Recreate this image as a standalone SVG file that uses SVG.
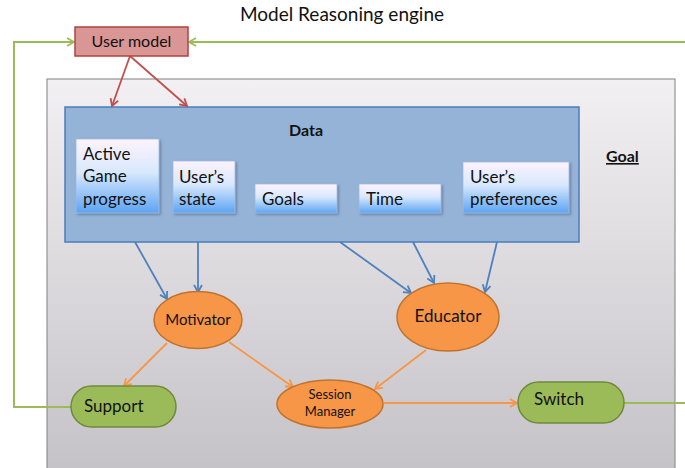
<svg xmlns="http://www.w3.org/2000/svg" width="685" height="468" viewBox="0 0 685 468">
<defs>
<linearGradient id="gGray" x1="0" y1="0" x2="0" y2="1">
<stop offset="0" stop-color="#f3f0f3"/>
<stop offset="1" stop-color="#c4c2c7"/>
</linearGradient>
<linearGradient id="gSub" x1="0" y1="0" x2="0" y2="1">
<stop offset="0" stop-color="#fdf3fd"/>
<stop offset="0.45" stop-color="#d8e8fd"/>
<stop offset="1" stop-color="#5ca4f3"/>
</linearGradient>
<filter id="shadow" x="-10%" y="-10%" width="130%" height="130%">
<feDropShadow dx="1.5" dy="1.5" stdDeviation="1.2" flood-color="#3a4f6a" flood-opacity="0.5"/>
</filter>
<marker id="aRed" markerWidth="10" markerHeight="10" refX="8" refY="5" orient="auto" markerUnits="userSpaceOnUse">
<path d="M1,1 L8,5 L1,9" fill="none" stroke="#c0504d" stroke-width="1.8"/>
</marker>
<marker id="aBlue" markerWidth="10" markerHeight="10" refX="8" refY="5" orient="auto" markerUnits="userSpaceOnUse">
<path d="M1,1 L8,5 L1,9" fill="none" stroke="#4f81bd" stroke-width="1.8"/>
</marker>
<marker id="aOrange" markerWidth="10" markerHeight="10" refX="8" refY="5" orient="auto" markerUnits="userSpaceOnUse">
<path d="M1,1 L8,5 L1,9" fill="none" stroke="#f79646" stroke-width="1.8"/>
</marker>
<marker id="aGreen" markerWidth="10" markerHeight="10" refX="8" refY="5" orient="auto" markerUnits="userSpaceOnUse">
<path d="M1,1 L8,5 L1,9" fill="none" stroke="#9bbb59" stroke-width="1.8"/>
</marker>
</defs>
<style>
text { font-family: Lato, "Liberation Sans", sans-serif; fill: #111; }
.sub { fill: url(#gSub); stroke: #9dbbe0; stroke-width: 0.8; filter: url(#shadow); }
.st { font-size: 17px; }
.orange { fill: #f79646; stroke: #c0732f; stroke-width: 1.5; }
.green { fill: #9bbb59; stroke: #6f8a3c; stroke-width: 1.5; }
.cRed { stroke: #c0504d; stroke-width: 1.8; fill: none; marker-end: url(#aRed); }
.cBlue { stroke: #4f81bd; stroke-width: 1.8; fill: none; marker-end: url(#aBlue); }
.cOrange { stroke: #f79646; stroke-width: 1.8; fill: none; marker-end: url(#aOrange); }
.cGreen { stroke: #9bbb59; stroke-width: 2; fill: none; }
</style>
<rect width="685" height="468" fill="#ffffff"/>
<text x="342" y="21" font-size="19" text-anchor="middle">Model Reasoning engine</text>
<g id="engine">
<rect x="47" y="79" width="628" height="395" fill="url(#gGray)" stroke="#808080" stroke-width="1"/>
<text x="606" y="162" font-size="16" font-weight="bold" text-decoration="underline">Goal</text>
</g>
<g id="data">
<rect x="65" y="107" width="514" height="135" fill="#95b3d7" stroke="#4a7ebb" stroke-width="1.5"/>
<text x="306" y="136" font-size="16" font-weight="bold" text-anchor="middle">Data</text>
</g>
<g id="active-game-progress">
<rect class="sub" x="76" y="139" width="83" height="74"/>
<text class="st" x="83" y="160">Active</text>
<text class="st" x="83" y="182">Game</text>
<text class="st" x="83" y="205">progress</text>
</g>
<g id="users-state">
<rect class="sub" x="173" y="161" width="62" height="52"/>
<text class="st" x="179" y="183">User’s</text>
<text class="st" x="179" y="205">state</text>
</g>
<g id="goals">
<rect class="sub" x="255" y="184" width="82" height="29"/>
<text class="st" x="262" y="205">Goals</text>
</g>
<g id="time">
<rect class="sub" x="359" y="184" width="82" height="29"/>
<text class="st" x="366" y="205">Time</text>
</g>
<g id="users-preferences">
<rect class="sub" x="463" y="162" width="106" height="51"/>
<text class="st" x="470" y="183">User’s</text>
<text class="st" x="470" y="205">preferences</text>
</g>
<g id="connectors">
<polyline class="cGreen" points="72,407 14,407 14,42 74,42" marker-end="url(#aGreen)"/>
<polyline class="cGreen" points="685,42 189,42" marker-end="url(#aGreen)"/>
<line class="cGreen" x1="624" y1="403" x2="685" y2="403"/>
<line class="cRed" x1="130" y1="56" x2="112" y2="106"/>
<line class="cRed" x1="130" y1="56" x2="187" y2="106"/>
<line class="cBlue" x1="135" y1="242" x2="167" y2="299"/>
<line class="cBlue" x1="198" y1="242" x2="198" y2="292"/>
<line class="cBlue" x1="340" y1="242" x2="411" y2="293"/>
<line class="cBlue" x1="413" y1="242" x2="434" y2="283"/>
<line class="cBlue" x1="497" y1="242" x2="485" y2="292"/>
<line class="cOrange" x1="167" y1="343" x2="124" y2="386"/>
<line class="cOrange" x1="229" y1="342" x2="293" y2="387"/>
<line class="cOrange" x1="426" y1="350" x2="375" y2="389"/>
<line class="cOrange" x1="384" y1="403" x2="517" y2="403"/>
</g>
<g id="user-model">
<rect x="75" y="27" width="113" height="29" fill="#d99694" stroke="#b0413e" stroke-width="1.5"/>
<text x="131.5" y="47" font-size="16" text-anchor="middle">User model</text>
</g>
<g id="motivator">
<ellipse class="orange" cx="198" cy="320" rx="44" ry="28.5"/>
<text x="198" y="325" font-size="15" text-anchor="middle">Motivator</text>
</g>
<g id="educator">
<ellipse class="orange" cx="448" cy="317" rx="51" ry="34"/>
<text x="448" y="322" font-size="17" text-anchor="middle">Educator</text>
</g>
<g id="session-manager">
<ellipse class="orange" cx="330" cy="404" rx="53" ry="24"/>
<text x="330" y="399" font-size="13" text-anchor="middle">Session</text>
<text x="330" y="416" font-size="13" text-anchor="middle">Manager</text>
</g>
<g id="support">
<rect class="green" x="71" y="386" width="105" height="41" rx="20.5"/>
<text x="84" y="412" font-size="17">Support</text>
</g>
<g id="switch">
<rect class="green" x="518" y="382" width="106" height="41" rx="20.5"/>
<text x="534" y="405" font-size="17">Switch</text>
</g>
</svg>
